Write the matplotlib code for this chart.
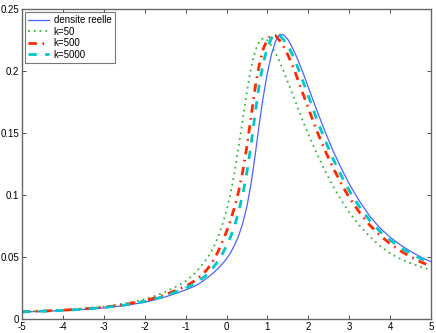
import matplotlib
matplotlib.use("Agg")
import matplotlib.pyplot as plt

x = [-5, -4.5, -4, -3.5, -3, -2.5, -2, -1.75, -1.5, -1.25,
     -1, -0.9, -0.8, -0.7, -0.6, -0.5, -0.4, -0.3, -0.2, -0.1,
     0, 0.1, 0.2, 0.3, 0.4, 0.5, 0.6, 0.7, 0.8, 0.9,
     1.0, 1.1, 1.2, 1.3, 1.4, 1.5, 1.6, 1.7, 1.8, 1.9,
     2.0, 2.2, 2.4, 2.6, 2.8, 3.0, 3.25, 3.5, 3.75, 4.0,
     4.25, 4.5, 4.75, 5.0]

y_reelle = [0.0057, 0.0062, 0.0068, 0.0077, 0.0089, 0.0108, 0.0135, 0.0155, 0.0178, 0.0205,
            0.0235, 0.0248, 0.0262, 0.0279, 0.0300, 0.0325, 0.0350, 0.0378, 0.0410, 0.0445,
            0.0485, 0.0535, 0.0598, 0.0675, 0.0775, 0.0910, 0.1090, 0.1320, 0.1570, 0.1795,
            0.1985, 0.2135, 0.2240, 0.2295, 0.2290, 0.2255, 0.2195, 0.2125, 0.2045, 0.1960,
            0.1870, 0.1690, 0.1520, 0.1360, 0.1220, 0.1090, 0.0950, 0.0830, 0.0735, 0.0660,
            0.0598, 0.0545, 0.0500, 0.0462]

y_k50 = [0.0060, 0.0066, 0.0074, 0.0085, 0.0100, 0.0124, 0.0160, 0.0186, 0.0218, 0.0258,
         0.0305, 0.0332, 0.0362, 0.0395, 0.0435, 0.0478, 0.0528, 0.0590, 0.0665, 0.0760,
         0.0875, 0.1015, 0.1190, 0.1395, 0.1615, 0.1835, 0.2025, 0.2160, 0.2240, 0.2265,
         0.2248, 0.2205, 0.2145, 0.2075, 0.1995, 0.1910, 0.1825, 0.1740, 0.1655, 0.1570,
         0.1490, 0.1340, 0.1200, 0.1075, 0.0960, 0.0860, 0.0755, 0.0665, 0.0590, 0.0530,
         0.0485, 0.0450, 0.0420, 0.0395]

y_k500 = [0.0058, 0.0064, 0.0071, 0.0081, 0.0095, 0.0116, 0.0147, 0.0170, 0.0197, 0.0228,
          0.0265, 0.0283, 0.0304, 0.0328, 0.0356, 0.0390, 0.0432, 0.0483, 0.0548, 0.0625,
          0.0705, 0.0795, 0.0905, 0.1035, 0.1195, 0.1395, 0.1630, 0.1865, 0.2050, 0.2180,
          0.2255, 0.2288, 0.2285, 0.2245, 0.2195, 0.2130, 0.2055, 0.1970, 0.1880, 0.1790,
          0.1700, 0.1525, 0.1365, 0.1225, 0.1095, 0.0980, 0.0860, 0.0758, 0.0675, 0.0607,
          0.0550, 0.0502, 0.0460, 0.0425]

y_k5000 = [0.0058, 0.0063, 0.0069, 0.0079, 0.0092, 0.0112, 0.0141, 0.0162, 0.0187, 0.0216,
           0.0250, 0.0265, 0.0282, 0.0302, 0.0325, 0.0352, 0.0385, 0.0425, 0.0472, 0.0527,
           0.0590, 0.0663, 0.0752, 0.0870, 0.1010, 0.1185, 0.1405, 0.1655, 0.1890, 0.2065,
           0.2190, 0.2265, 0.2297, 0.2288, 0.2250, 0.2205, 0.2140, 0.2065, 0.1980, 0.1890,
           0.1800, 0.1615, 0.1450, 0.1295, 0.1160, 0.1035, 0.0905, 0.0795, 0.0708, 0.0637,
           0.0578, 0.0528, 0.0487, 0.0452]

labels = ["densite reelle", "k=50", "k=500", "k=5000"]
xticks = [-5, -4, -3, -2, -1, 0, 1, 2, 3, 4, 5]
yticks = [0, 0.05, 0.1, 0.15, 0.2, 0.25]
ytick_labels = ["0", "0.05", "0.1", "0.15", "0.2", "0.25"]

plt.rcParams['axes.unicode_minus'] = False
plt.rcParams['font.family'] = ['Liberation Sans', 'DejaVu Sans']

fig = plt.figure(figsize=(4.36, 3.33), dpi=100)
ax = fig.add_axes([0.0505, 0.042, 0.938, 0.931])

ax.plot(x, y_reelle, color='#4a64ff', lw=0.9, ls='-', label=labels[0])
ax.plot(x, y_k50, color='#3cb43c', lw=1.3, ls=(0, (1, 2.2)), label=labels[1])
ax.plot(x, y_k500, color='#ff2a00', lw=2.0, ls=(0, (3, 2, 0.6, 2)), label=labels[2])
ax.plot(x, y_k5000, color='#00c8c8', lw=2.0, ls=(0, (3, 3)), label=labels[3])

ax.set_xlim(-5, 5)
ax.set_ylim(0, 0.25)
ax.set_xticks(xticks)
ax.set_xticklabels([str(t) for t in xticks])
ax.set_yticks(yticks)
ax.set_yticklabels(ytick_labels)
ax.tick_params(direction='in', top=True, right=True, labelsize=7, length=3,
               width=0.6, pad=2, colors='#333333', labelcolor='black')
for s in ax.spines.values():
    s.set_color('#666666')
    s.set_linewidth(1.0)

leg = ax.legend(loc='upper left', fontsize=7, frameon=True, fancybox=False,
                edgecolor='#555555', handlelength=2.1, borderpad=0.35,
                labelspacing=0.15, handletextpad=0.5, borderaxespad=0.3)
leg.get_frame().set_linewidth(0.8)

fig.savefig("out.png", dpi=100)
